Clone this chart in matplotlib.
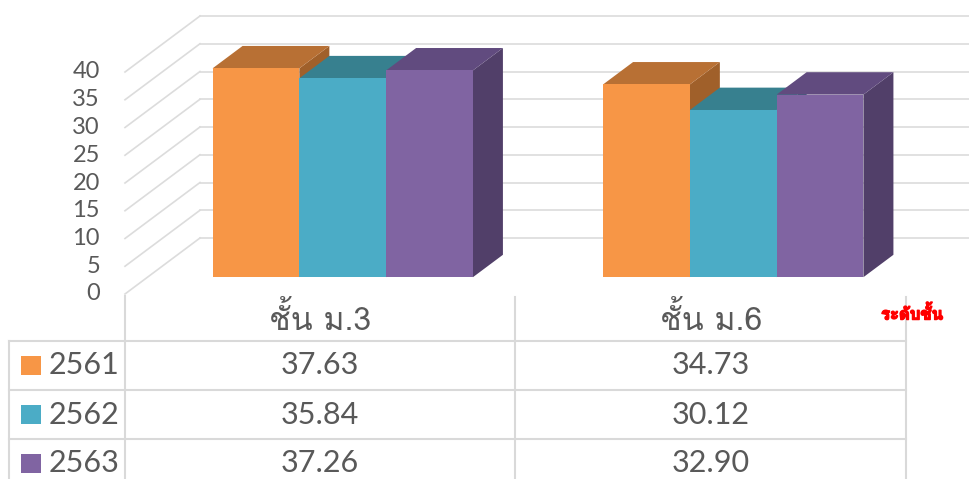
import matplotlib
matplotlib.use('Agg')
import matplotlib.pyplot as plt
import matplotlib.patheffects as pe
from matplotlib import font_manager
from matplotlib.patches import Polygon, Rectangle
from fontTools.ttLib import TTFont

categories = ['ชั้น ม.3', 'ชั้น ม.6']
years = ['2561', '2562', '2563']
values_2561 = [37.63, 34.73]
values_2562 = [35.84, 30.12]
values_2563 = [37.26, 32.90]
series = [values_2561, values_2562, values_2563]
yticks = [0, 5, 10, 15, 20, 25, 30, 35, 40]
axis_title = 'ระดับชั้น'

front = ['#F79646', '#4BACC6', '#8064A2']
top = ['#B87034', '#37808F', '#614B7F']
side = ['#A0602A', '#2E6B7A', '#513F69']


def find_font(ch):
    # first installed font that has a glyph for ch
    seen = set()
    for f in font_manager.fontManager.ttflist:
        if f.fname in seen:
            continue
        seen.add(f.fname)
        try:
            tt = TTFont(f.fname, fontNumber=0, lazy=True)
            cmap = tt.getBestCmap()
            if cmap and ord(ch) in cmap:
                return f.name
        except Exception:
            pass
    return None


thai = find_font('ช')
num_font = 'Lato'
thai_family = [thai, num_font, 'DejaVu Sans'] if thai else [num_font, 'DejaVu Sans']

W, H = 970, 479
fig = plt.figure(figsize=(W / 100, H / 100), dpi=100)

# chart axes: x in category units, y in value units
x0_px, cat_px = 125, 390.5
y0_px, unit_px = 294, 5.55
ax = fig.add_axes([0, 0, 1, 1])
ax.set_xlim(-x0_px / cat_px, (W - x0_px) / cat_px)
ax.set_ylim(-(H - y0_px) / unit_px, y0_px / unit_px)
ax.axis('off')

# full depth of the floor, in data units
dx, dy = 75 / cat_px, 56 / unit_px
grid = '#DCDCDC'
for v in yticks:
    ax.plot([0, dx], [v, v + dy], color=grid, lw=1.2, zorder=1)
    ax.plot([dx, ax.get_xlim()[1]], [v + dy, v + dy], color=grid, lw=1.2, zorder=1)
    ax.text(-25 / cat_px, v, str(v), ha='right', va='center', fontsize=17,
            color='#595959', family=num_font)

w = 1 / 4.5
d0, d1 = 0.3, 0.7
for ci in range(len(categories)):
    for si, vals in enumerate(series):
        v = vals[ci]
        xl = ci + 0.5 + (si - 1.5) * w + d0 * dx
        xr = xl + w
        yb = d0 * dy
        yt = yb + v
        ddx, ddy = (d1 - d0) * dx, (d1 - d0) * dy
        ax.add_patch(Polygon([(xr, yb), (xr + ddx, yb + ddy), (xr + ddx, yt + ddy), (xr, yt)],
                             closed=True, fc=side[si], ec='none', zorder=2))
        ax.add_patch(Polygon([(xl, yt), (xl + ddx, yt + ddy), (xr + ddx, yt + ddy), (xr, yt)],
                             closed=True, fc=top[si], ec='none', zorder=2))
        ax.bar(xl, v, width=w, bottom=yb, align='edge', color=front[si], zorder=2)

# data table below the chart
tax = fig.add_axes([0, 0, 1, (H - 295) / H])
tax.set_xlim(ax.get_xlim())
row_px = 49
tax.set_ylim((H - 341) / row_px, -46 / row_px)
tax.axis('off')
left = -(x0_px - 9) / cat_px
right = len(categories)
line = '#D9D9D9'
tax.plot([0, 0], [-46 / row_px, 3], color=line, lw=1.5)
for c in range(1, len(categories) + 1):
    tax.plot([c, c], [-46 / row_px + 0.05, 3], color=line, lw=1.5)
tax.plot([left, left], [0, 3], color=line, lw=1.5)
for r in range(3):
    tax.plot([left, right], [r, r], color=line, lw=1.5)

for ci, cat in enumerate(categories):
    tax.text(ci + 0.5, -0.42, cat, ha='center', va='center', fontsize=23,
             color='#595959', family=thai_family)
for si, vals in enumerate(series):
    tax.add_patch(Rectangle((12 / cat_px + left, si + 0.3), 20 / cat_px, 0.4,
                            fc=front[si], ec='none'))
    tax.text(left + 40 / cat_px, si + 0.5, years[si], ha='left', va='center',
             fontsize=22, color='#595959', family=num_font)
    for ci, v in enumerate(vals):
        tax.text(ci + 0.5, si + 0.5, f'{v:.2f}', ha='center', va='center',
                 fontsize=22, color='#595959', family=num_font)

tax.text(right + 6 / cat_px, -0.55, axis_title, ha='center', va='center',
         fontsize=12, fontweight='bold', color='#FF0000', family=thai_family,
         path_effects=[pe.withStroke(linewidth=1.0, foreground='#FF0000')])

fig.savefig('out.png', dpi=100)
